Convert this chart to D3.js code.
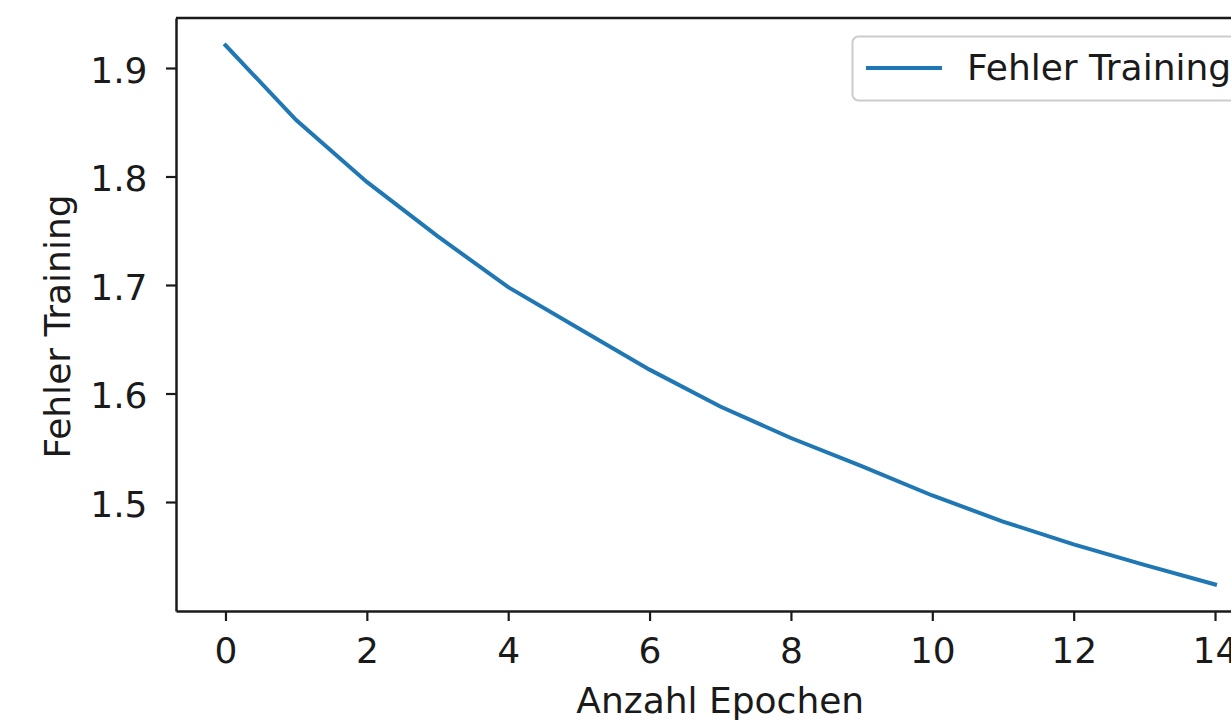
<!DOCTYPE html>
<html>
<head>
<meta charset="utf-8">
<script src="https://cdn.jsdelivr.net/npm/d3@7"></script>
<style>
  body { margin: 0; background: #fff; }
  svg { display: block; }
  text { font-family: "DejaVu Sans", sans-serif; fill: #1a1a1a; }
</style>
</head>
<body>
<svg width="1231" height="721"></svg>
<script>
// training loss per epoch
const epochs = [0, 1, 2, 3, 4, 5, 6, 7, 8, 9, 10, 11, 12, 13, 14];
const fehlerTraining = [1.921, 1.852, 1.795, 1.745, 1.698, 1.660, 1.622, 1.588,
                        1.559, 1.533, 1.506, 1.482, 1.461, 1.442, 1.424];
const xTicks = [0, 2, 4, 6, 8, 10, 12, 14];
const yTicks = [1.5, 1.6, 1.7, 1.8, 1.9];
const seriesName = 'Fehler Training';

const plotLeft = 176, plotRight = 1264.5, plotTop = 18, plotBottom = 611;
const fontSize = 36;

const svg = d3.select('svg');

const xs = d3.scaleLinear().domain([-0.7, 14.7]).range([plotLeft, plotRight]);
const ys = d3.scaleLinear().domain([1.39954, 1.94608]).range([plotBottom, plotTop]);

// line
const line = d3.line().x((d, i) => xs(epochs[i])).y(d => ys(d));
svg.append('path')
  .datum(fehlerTraining)
  .attr('d', line)
  .attr('fill', 'none')
  .attr('stroke', '#1f77b4')
  .attr('stroke-width', 4)
  .attr('stroke-linecap', 'square');

// frame (top and right spines)
svg.append('line')
  .attr('x1', plotLeft).attr('x2', plotRight).attr('y1', plotTop).attr('y2', plotTop)
  .attr('stroke', '#1a1a1a').attr('stroke-width', 2.5);
svg.append('line')
  .attr('x1', plotRight).attr('x2', plotRight).attr('y1', plotTop).attr('y2', plotBottom)
  .attr('stroke', '#1a1a1a').attr('stroke-width', 2.5);

// axes
const xAxis = svg.append('g')
  .attr('transform', `translate(0,${plotBottom})`)
  .call(d3.axisBottom(xs).tickValues(xTicks).tickFormat(d3.format('d'))
    .tickSize(10).tickSizeOuter(0).tickPadding(16));

const yAxis = svg.append('g')
  .attr('transform', `translate(${plotLeft},0)`)
  .call(d3.axisLeft(ys).tickValues(yTicks).tickFormat(d3.format('.1f'))
    .tickSize(10).tickSizeOuter(0).tickPadding(18.5));

[xAxis, yAxis].forEach(g => {
  g.select('.domain').attr('stroke', '#1a1a1a').attr('stroke-width', 2.5);
  g.selectAll('.tick line').attr('stroke', '#1a1a1a').attr('stroke-width', 2.2);
  g.selectAll('.tick text')
    .style('font-family', '"DejaVu Sans", sans-serif')
    .style('font-size', fontSize + 'px')
    .attr('fill', '#1a1a1a');
});
yAxis.selectAll('.tick text').attr('dy', '0.4em');

// axis labels
svg.append('text')
  .attr('x', (plotLeft + plotRight) / 2)
  .attr('y', 713)
  .attr('text-anchor', 'middle')
  .style('font-size', fontSize + 'px')
  .text('Anzahl Epochen');

svg.append('text')
  .attr('transform', `translate(70,${(plotTop + plotBottom) / 2 + 12}) rotate(-90)`)
  .attr('text-anchor', 'middle')
  .style('font-size', fontSize + 'px')
  .text(seriesName);

// legend
const legend = svg.append('g');
legend.append('rect')
  .attr('x', 852.5).attr('y', 36.5)
  .attr('width', 440).attr('height', 64)
  .attr('rx', 6)
  .attr('fill', 'rgba(255,255,255,0.8)')
  .attr('stroke', '#cccccc')
  .attr('stroke-width', 2);
legend.append('line')
  .attr('x1', 866).attr('x2', 942).attr('y1', 68).attr('y2', 68)
  .attr('stroke', '#1f77b4').attr('stroke-width', 4);
legend.append('text')
  .attr('x', 967).attr('y', 80)
  .style('font-size', '36px')
  .text(seriesName);
</script>
</body>
</html>
